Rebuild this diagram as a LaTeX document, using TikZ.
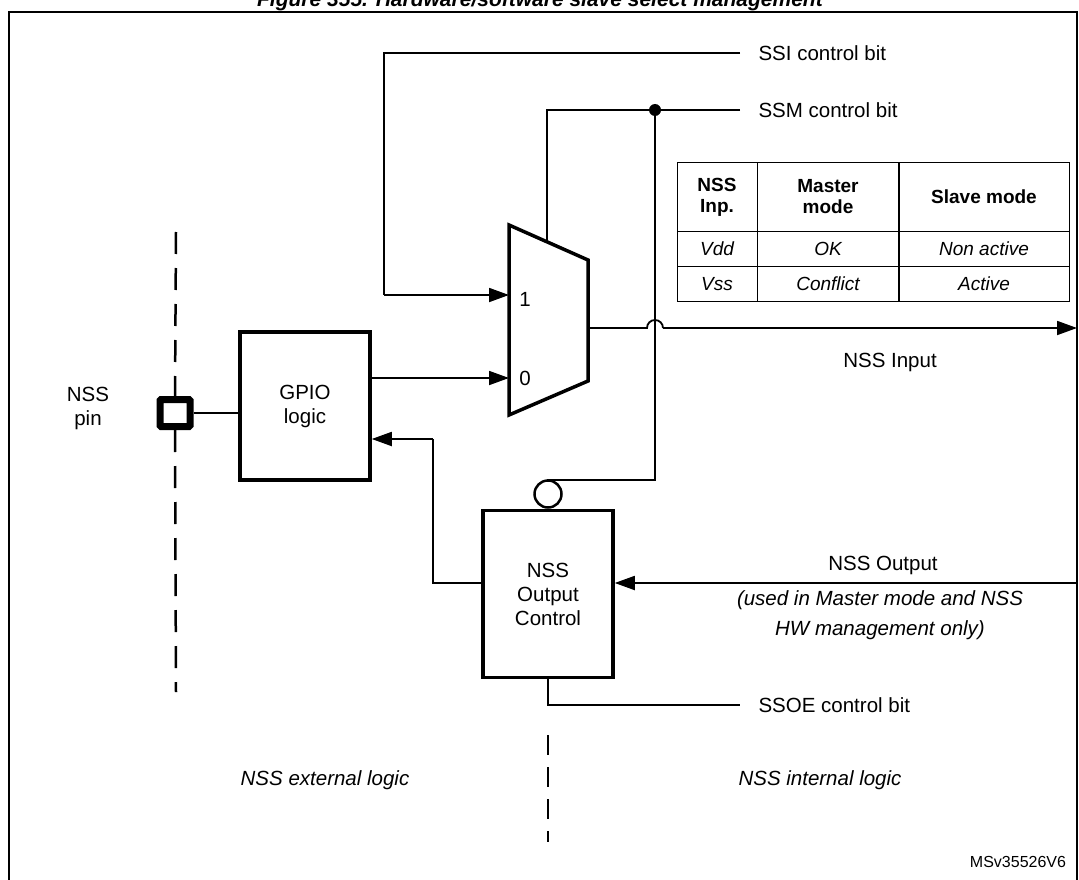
\documentclass[tikz,border=0pt]{standalone}
\usepackage{fontspec}
\setmainfont{Liberation Sans}
\usepackage{tikz}
\usetikzlibrary{positioning, arrows.meta}

\begin{document}
\begin{tikzpicture}[x=1pt, y=-1pt, font=\fontsize{20.5}{24}\selectfont,
  blk/.style={draw, line width=3.5pt, minimum width=130pt, align=center},
  wire/.style={line width=1.8pt},
  sig/.style={wire, -{Triangle[length=20pt, width=14pt]}},
  tag/.style={anchor=west},
  note/.style={font=\fontsize{20.5}{30}\selectfont\itshape, align=center},
  cell/.style={draw, line width=1pt, minimum height=35pt, align=center, font=\fontsize{19}{21}\selectfont\itshape},
]
  \useasboundingbox (0,0) rectangle (1079,880);
  \begin{scope}
  \clip (0,0) rectangle (1079,880);
  \node[font=\fontsize{21}{24}\selectfont\bfseries\itshape] (title) at (540,1) {Figure 355. Hardware/software slave select management};
  \draw[line width=2.5pt] (9,890) -- (9,12) -- (1077,12) -- (1077,890);
  \end{scope}

  % blocks
  \node[blk, minimum height=148pt] (gpio) at (305,406) {GPIO\\logic};
  \node[blk, minimum height=167pt] (nssoc) at (548,594) {NSS\\Output\\Control};
  \node[draw, line width=7pt, minimum width=30pt, minimum height=27pt, inner sep=0pt, rounded corners=1pt] (pin) at (175,413) {};
  \node[align=center] (pinlbl) at (88,408) {NSS\\pin};
  \node[draw, circle, line width=2.5pt, minimum size=27pt, inner sep=0pt] (bub) at (548,494) {};
  \draw[line width=3.5pt] (509,225) -- (588,260) -- (588,381) -- (509,415) -- cycle;
  \node (in1) at (525,299) {1};
  \node (in0) at (525,378) {0};
  \coordinate (mout) at (588,328);
  \coordinate (dot) at (655,110);
  \fill (dot) circle (6pt);

  % dashed borders
  \draw[line width=2.5pt, dash pattern=on 22pt off 14pt] (176,232) -- (pin.north);
  \draw[line width=2.5pt, dash pattern=on 22pt off 14pt] (pin.south) -- (176,692);
  \draw[line width=2pt, dash pattern=on 20pt off 12pt] (548,735) -- (548,842);

  % control bits
  \node[tag] (ssi) at (755,53) {SSI control bit};
  \node[tag] (ssm) at (755,110) {SSM control bit};
  \node[tag] (ssoe) at (755,705) {SSOE control bit};
  \draw[wire] (ssi.west) ++(-15,0) -- (384,53) -- (384,295);
  \draw[sig] (384,295) -- (509,295);
  \draw[wire] (ssm.west) ++(-15,0) -- (547,110) -- (547,242);
  \draw[wire] (dot) -- (655,480) -- (548,480) -- (bub.north);
  \draw[wire] (nssoc.south) -- (548,705) -- (740,705);

  % data paths
  \draw[wire] (pin.east) -- (gpio.west |- pin.east);
  \draw[sig] (gpio.east |- 0,378) -- (509,378);
  \draw[wire] (mout) -- (647,328) arc (180:0:8pt);
  \draw[sig] (663,328) -- (1077,328);
  \node (nssin) at (890,362) {NSS Input};
  \draw[wire] (nssoc.west |- 0,583) -- (433,583) -- (433,439);
  \draw[sig] (433,439) -- (gpio.east |- 0,439);
  \draw[sig] (1077,583) -- (nssoc.east |- 0,583);
  \node (nssout) at (883,565) {NSS Output};
  \node[note] (used) at (880,615) {(used in Master mode and NSS\\HW management only)};

  % table
  \node[cell, minimum width=80pt, minimum height=69pt, font=\fontsize{19}{21}\selectfont\bfseries] (h1) at (717,197) {NSS\\Inp.};
  \node[cell, minimum width=142pt, minimum height=69pt, font=\fontsize{19}{21}\selectfont\bfseries] (h2) at (828,197) {Master\\mode};
  \node[cell, minimum width=171pt, minimum height=69pt, font=\fontsize{19}{21}\selectfont\bfseries] (h3) at (984,197) {Slave mode};
  \node[cell, minimum width=80pt] (a1) at (717,249) {Vdd};
  \node[cell, minimum width=142pt] (a2) at (828,249) {OK};
  \node[cell, minimum width=171pt] (a3) at (984,249) {Non active};
  \node[cell, minimum width=80pt] (b1) at (717,284) {Vss};
  \node[cell, minimum width=142pt] (b2) at (828,284) {Conflict};
  \node[cell, minimum width=171pt] (b3) at (984,284) {Active};

  % footer
  \node[note] (ext) at (325,780) {NSS external logic};
  \node[note] (int) at (820,780) {NSS internal logic};
  \node[font=\fontsize{16}{18}\selectfont] (ref) at (1018,862) {MSv35526V6};
\end{tikzpicture}
\end{document}
